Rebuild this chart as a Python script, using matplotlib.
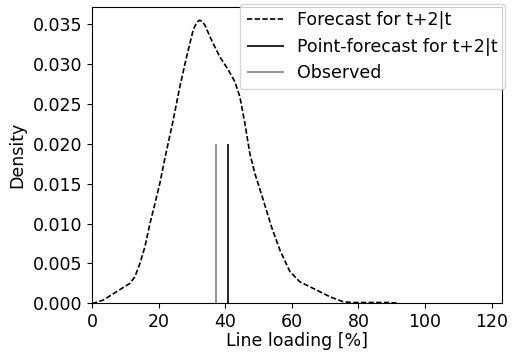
import matplotlib
matplotlib.use("Agg")
import matplotlib.pyplot as plt

# Density curve
load_x = [0, 0.4, 3.4, 7.4, 11.4, 12.9, 14.4, 15.9, 17.4, 18.9, 20.4, 21.9, 24.4,
          26.4, 28.4, 30.4, 31.4, 32.2, 33.0, 33.9, 35.9, 38.4, 40.9, 42.9, 44.4,
          45.9, 47.4, 48.9, 51.4, 53.9, 56.4, 59.4, 62.4, 67.4, 71.4, 75.4, 78.0,
          81.4, 85.0, 89.5, 92.0]
density = [0.0, 0.0, 0.00041, 0.00146, 0.00251, 0.00334, 0.0050, 0.0071, 0.0100,
           0.0125, 0.0151, 0.0182, 0.0230, 0.0272, 0.0309, 0.0343, 0.0352, 0.0355,
           0.0354, 0.0349, 0.0330, 0.0309, 0.0293, 0.0278, 0.0259, 0.0226, 0.0188,
           0.0163, 0.0130, 0.0096, 0.0067, 0.0040, 0.0027, 0.00167, 0.00083, 0.0002,
           0.0001, 0.0001, 0.0001, 0.0001, 0.0]

point_forecast = 40.7
observed = 37.1
vline_height = 0.020

yticks = [0.000, 0.005, 0.010, 0.015, 0.020, 0.025, 0.030, 0.035]
xticks = [0, 20, 40, 60, 80, 100, 120]

fig = plt.figure(figsize=(5.15, 3.54), dpi=100)
ax = fig.add_axes([0.1786, 0.1432, 0.9753 - 0.1786, 0.981 - 0.1432])

ax.plot(load_x, density, color="black", linestyle=(0, (3.2, 1.4)), linewidth=1.2,
        label="Forecast for t+2|t")
ax.vlines(point_forecast, 0, vline_height, color="black", linewidth=1.2,
          label="Point-forecast for t+2|t")
ax.vlines(observed, 0, vline_height, color="gray", linewidth=1.2,
          label="Observed")

ax.set_xlim(0, 123.2)
ax.set_ylim(0, 0.0372)
ax.set_xticks(xticks)
ax.set_yticks(yticks)
ax.set_yticklabels([f"{v:.3f}" for v in yticks])
ax.tick_params(labelsize=12.5)
ax.set_xlabel("Line loading [%]", fontsize=12.5, labelpad=1)
ax.set_ylabel("Density", fontsize=12.5, labelpad=5)

ax.legend(loc="upper right", bbox_to_anchor=(505 / 515, (354 - 4) / 354),
          bbox_transform=fig.transFigure, borderaxespad=0, fontsize=12.5,
          handlelength=2.1)

fig.savefig("out.png", dpi=100)
